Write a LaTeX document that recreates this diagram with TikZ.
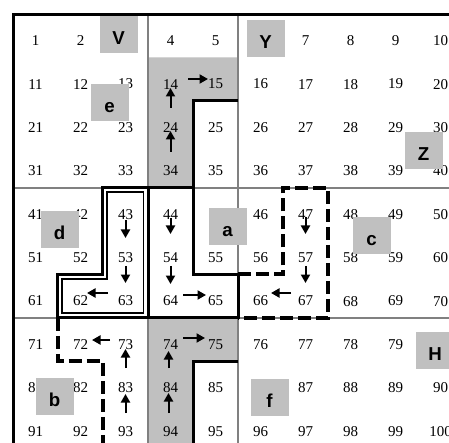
\documentclass[tikz,border=0pt]{standalone}
\usepackage{fontspec}
\setmainfont{Liberation Serif}
\newfontfamily\labfont{Liberation Sans}
\usetikzlibrary{arrows.meta}
\definecolor{shadegray}{HTML}{C0C0C0}
\definecolor{gridgray}{HTML}{808080}
\begin{document}
\begin{tikzpicture}[x=1pt,y=-1pt,
  num/.style={inner sep=0pt, font=\fontsize{15pt}{16pt}\selectfont},
  lab/.style={fill=shadegray, minimum width=38pt, minimum height=37pt, inner sep=0pt,
    text height=20pt, text depth=0pt, font=\labfont\bfseries\fontsize{18.7pt}{20pt}\selectfont},
  gridline/.style={gridgray, line width=2pt},
  wall/.style={black, line width=3pt},
  dashwall/.style={black, line width=4pt, dash pattern=on 13pt off 5pt},
  arr/.style={black, line width=2pt, -{Triangle[length=8.5pt,width=9pt]}}]
\useasboundingbox (0,0) rectangle (449,443);
\clip (0,0) rectangle (449,443);
\fill[white] (0,0) rectangle (449,443);
% shaded corridors
\fill[shadegray] (148,57.4) -- (238,57.4) -- (238,100.8) -- (193,100.8) -- (193,187.6) -- (148,187.6) -- cycle;
\fill[shadegray] (148,317.8) -- (238,317.8) -- (238,361.2) -- (193,361.2) -- (193,460) -- (148,460) -- cycle;
% grid lines
\draw[gridline] (148,14) -- (148,460);
\draw[gridline] (238,14) -- (238,460);
\draw[gridline] (13,187.6) -- (470,187.6);
\draw[gridline] (13,317.8) -- (470,317.8);
% numbers
\foreach \i in {1,...,100}{
  \pgfmathtruncatemacro\rr{(\i-1)/10}
  \pgfmathtruncatemacro\kk{mod(\i-1,10)}
  \ifnum\i=3 \else\ifnum\i=6 \else\ifnum\i=45 \else\ifnum\i=80 \else\ifnum\i=86 \else
    \node[num] (n\i) at ({35.5+45*\kk},{14+43.4*(\rr+0.5)+5}) {\i};
  \fi\fi\fi\fi\fi
}
% label boxes
\node[lab] (V) at (118.5,35) {V};
\node[lab] (e) at (109.5,102.5) {e};
\node[lab] (Y) at (265.5,38.5) {Y};
\node[lab] (Z) at (423.5,151) {Z};
\node[lab] (d) at (59.5,230) {d};
\node[lab] (a) at (227.5,227) {a};
\node[lab] (c) at (371.5,235.5) {c};
\node[lab] (b) at (54.5,396.5) {b};
\node[lab] (f) at (269.5,397.5) {f};
\node[lab] (H) at (435,350.5) {H};
% outer border
\draw[wall, line width=3.2pt] (13.5,460) -- (13.5,14.5) -- (470,14.5);
% solid walls
\draw[wall] (238,100.8) -- (193,100.8) -- (193,274.4) -- (238,274.4) -- (238,317.8) -- (148,317.8);
\draw[wall] (148,187.6) -- (193,187.6);
\draw[wall] (238,361.2) -- (193,361.2) -- (193,460);
% double-line L region
\draw[wall] (102,187.6) -- (148,187.6) -- (148,317.8) -- (57,317.8) -- (57,274.4) -- (102,274.4) -- cycle;
\draw[black, line width=1.8pt] (107,192.3) -- (143.5,192.3) -- (143.5,313.3) -- (62,313.3) -- (62,279.2) -- (107,279.2) -- cycle;
% dashed walls
\draw[dashwall] (238,274.4) -- (283,274.4) -- (283,187.6) -- (328,187.6) -- (328,317.8) -- (238,317.8);
\draw[dashwall] (58,317.8) -- (58,361.2) -- (103,361.2) -- (103,460);
% arrow end points
\coordinate (s34) at (170.5,152); \coordinate (t34) at (170.5,131);
\coordinate (s24) at (170.5,108); \coordinate (t24) at (170.5,88);
\coordinate (s14) at (188,79);    \coordinate (t14) at (208,79);
\coordinate (s43) at (125.5,220); \coordinate (t43) at (125.5,238);
\coordinate (s53) at (125.5,266); \coordinate (t53) at (125.5,283);
\coordinate (s63) at (108,293);   \coordinate (t63) at (87,293);
\coordinate (s44) at (170.5,218); \coordinate (t44) at (170.5,234);
\coordinate (s54) at (170.5,266); \coordinate (t54) at (170.5,284);
\coordinate (s64) at (183,295);   \coordinate (t64) at (206,295);
\coordinate (s47) at (305.5,217); \coordinate (t47) at (305.5,234);
\coordinate (s57) at (305.5,266); \coordinate (t57) at (305.5,283);
\coordinate (s67) at (291,293);   \coordinate (t67) at (271,293);
\coordinate (s73) at (110,340);   \coordinate (t73) at (92,340);
\coordinate (s83) at (125.5,368); \coordinate (t83) at (125.5,349);
\coordinate (s93) at (125.5,413); \coordinate (t93) at (125.5,394);
\coordinate (s74) at (183,338);   \coordinate (t74) at (205,338);
\coordinate (s84) at (168.5,368); \coordinate (t84) at (168.5,351);
\coordinate (s94) at (168.5,413); \coordinate (t94) at (168.5,393);
\foreach \a in {34,24,14,43,53,63,44,54,64,47,57,67,73,83,93,74,84,94}{
  \draw[arr] (s\a) -- (t\a);
}
\end{tikzpicture}
\end{document}
